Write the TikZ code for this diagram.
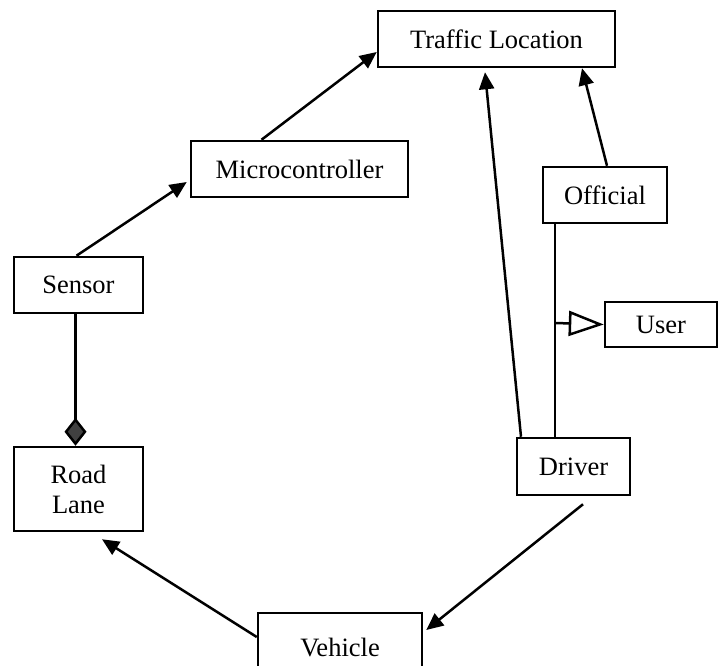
\documentclass[tikz,border=0pt]{standalone}
\usepackage{fontspec}
\setmainfont{Liberation Serif}
\usetikzlibrary{arrows.meta}
\begin{document}
\begin{tikzpicture}[x=1pt,y=-1pt,line width=2.5pt,
    box/.style={draw,align=center,inner sep=0pt,font=\fontsize{26.5}{30}\selectfont},
    assoc/.style={-{Triangle[length=17pt,width=15pt]}}]
    \useasboundingbox (0,0) rectangle (723,666);

    \node[box,minimum width=237pt,minimum height=56pt] (traffic) at (496.5,39) {Traffic Location};
    \node[box,minimum width=217pt,minimum height=56pt] (micro) at (299.5,169) {Microcontroller};
    \node[box,minimum width=124pt,minimum height=56pt] (official) at (605,195) {Official};
    \node[box,minimum width=129pt,minimum height=56pt] (sensor) at (78.5,285) {Sensor};
    \node[box,minimum width=112pt,minimum height=45pt] (user) at (661,324.5) {User};
    \node[box,minimum width=129pt,minimum height=84pt] (lane) at (78.5,489) {Road\\Lane};
    \node[box,minimum width=113pt,minimum height=57pt] (driver) at (573.5,466.5) {Driver};
    \node[box,minimum width=164pt,minimum height=70pt] (vehicle) at (340,648) {Vehicle};

    \draw [assoc] ([xshift=-2pt]sensor.north) -- ([yshift=-13pt,xshift=-3pt]micro.west);
    \draw [assoc] ([xshift=-38pt]micro.north) -- ([yshift=-13pt]traffic.west);
    \draw [assoc] ([xshift=-52.5pt]driver.north) -- ([xshift=-11.5pt,yshift=-4pt]traffic.south);
    \draw [assoc] ([xshift=2pt]official.north) -- ([xshift=85.5pt]traffic.south);

    % generalisation
    \coordinate (branch) at (555,323);
    \draw ([xshift=-50pt]official.south) -- ([xshift=-18.5pt]driver.north);
    \draw [-{Triangle[open,length=35pt,width=25pt,fill=white]}] (branch) -- (user.west);

    % aggregation
    \draw [-{Diamond[length=28pt,width=22pt,fill=black!75]}] ([xshift=-3pt]sensor.south) -- ([xshift=-3pt]lane.north);

    \draw [assoc] ([yshift=11pt]vehicle.west) -- ([xshift=23.5pt,yshift=-7pt]lane.south);
    \draw [assoc] ([xshift=9.5pt,yshift=-8pt]driver.south) -- ([yshift=18pt,xshift=3pt]vehicle.east);
\end{tikzpicture}
\end{document}
